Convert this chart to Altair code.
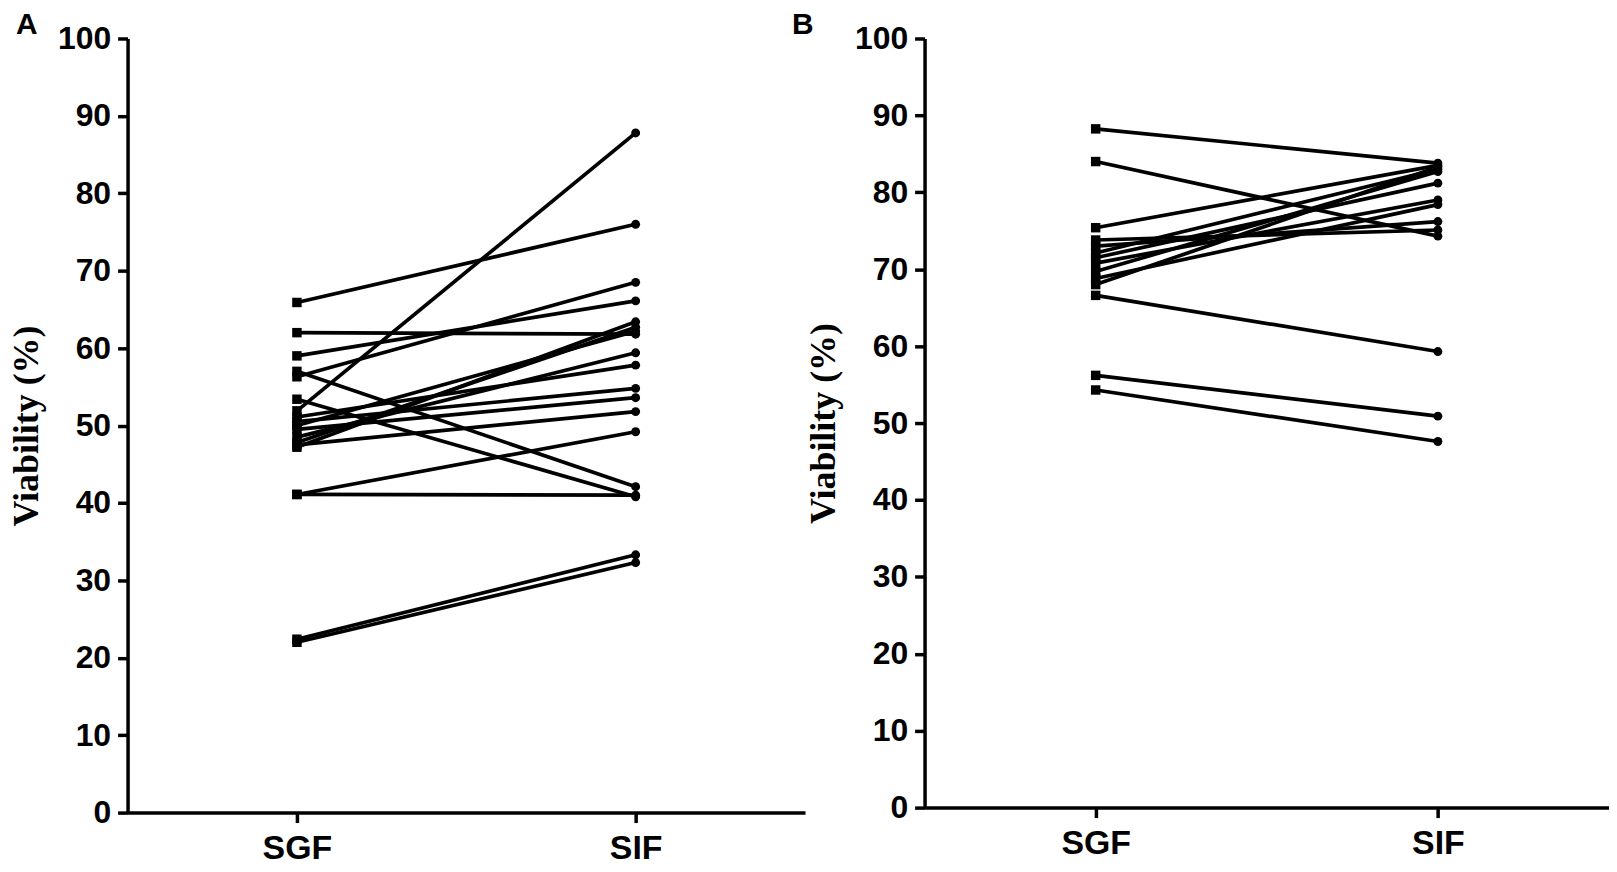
import altair as alt
import pandas as pd

conds = ["SGF", "SIF"]

a_sgf = [65.9, 62.0, 59.0, 56.3, 57.0, 53.4, 51.9, 47.2, 47.8, 48.5, 47.5, 50.0, 51.1, 50.5, 49.5, 41.1, 41.1, 22.4, 22.0]
a_sif = [76.0, 61.8, 66.1, 68.5, 42.1, 40.8, 87.8, 63.4, 62.7, 59.4, 51.8, 62.2, 57.8, 54.8, 53.6, 49.2, 41.0, 33.3, 32.3]

b_sgf = [88.25, 84.0, 75.4, 73.8, 73.0, 72.1, 71.5, 70.8, 69.7, 68.8, 68.0, 66.6, 56.2, 54.3]
b_sif = [83.8, 74.3, 83.5, 75.1, 76.2, 83.0, 81.2, 79.0, 82.7, 78.4, 83.3, 59.3, 50.9, 47.6]

y_ticks = list(range(0, 101, 10))


def make_df(sgf, sif):
    rows = []
    for i, (s, t) in enumerate(zip(sgf, sif)):
        rows.append({"id": i, "cond": conds[0], "v": s})
        rows.append({"id": i, "cond": conds[1], "v": t})
    return pd.DataFrame(rows)


def panel(sgf, sif, letter, w, h, title_dx):
    df = make_df(sgf, sif)
    base = alt.Chart(df)
    x = alt.X(
        "cond:N",
        scale=alt.Scale(type="point", padding=0.5, domain=conds),
        axis=alt.Axis(title=None, labelAngle=0, labelFontSize=34, labelPadding=9),
    )
    y = alt.Y(
        "v:Q",
        scale=alt.Scale(domain=[0, 100], nice=False),
        axis=alt.Axis(
            values=y_ticks,
            title="Viability (%)",
            titleFont="Liberation Serif",
            titleFontSize=36,
            titleFontWeight="bold",
            titleColor="black",
            titlePadding=12,
            labelFontSize=32,
            labelPadding=7,
        ),
    )
    lines = base.mark_line(color="black", strokeWidth=3.7).encode(x=x, y=y, detail="id:N")
    sq = (
        base.transform_filter(alt.datum.cond == "SGF")
        .mark_point(shape="square", filled=True, size=90, color="black", opacity=1)
        .encode(x=x, y=y)
    )
    ci = (
        base.transform_filter(alt.datum.cond == "SIF")
        .mark_point(shape="circle", filled=True, size=80, color="black", opacity=1)
        .encode(x=x, y=y)
    )
    return alt.layer(lines, sq, ci).properties(
        width=w,
        height=h,
        title=alt.TitleParams(
            text=letter,
            anchor="start",
            frame="group",
            dx=title_dx,
            dy=19,
            fontSize=30,
            font="Liberation Sans",
            fontWeight="bold",
            color="black",
            offset=2,
        ),
    )


pa = panel(a_sgf, a_sif, "A", 680, 777, -112)
pb = panel(b_sgf, b_sif, "B", 687, 772, -133)

chart = (
    alt.hconcat(pa, pb, spacing=120, bounds="flush")
    .properties(padding=0)
    .configure_view(stroke=None)
    .configure_axis(
        grid=False,
        domainColor="black",
        domainWidth=3.5,
        tickColor="black",
        tickWidth=3.5,
        tickSize=10,
        labelFont="Liberation Sans",
        labelFontWeight="bold",
        labelColor="black",
    )
)

chart.save("out.html", embed_options={"renderer": "svg", "actions": False})
